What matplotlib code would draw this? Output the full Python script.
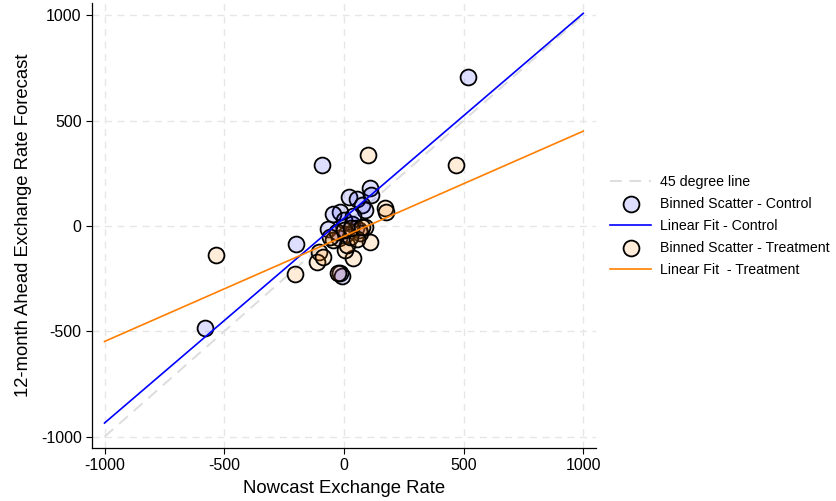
import matplotlib.pyplot as plt
import numpy as np

plt.rcParams['font.family'] = ['Liberation Sans', 'DejaVu Sans']
plt.rcParams['axes.unicode_minus'] = False

# binned scatter points (nowcast, 12-month ahead forecast)
ctrl_x = [-580, -200, -90, 520, 108, 112, 23, 55, 75, 90, -16, -44, -65, -30,
          -9, -16, 0, 35, 50, -20, 10, 65, 40]
ctrl_y = [-485, -87, 287, 705, 180, 148, 137, 128, 100, 78, 68, 58, -15, -30,
          -237, -224, 30, 10, -10, -55, -40, -20, 45]

treat_x = [-535, -204, 467, 100, 172, 175, 109, 40, 5, 12, -44, -106, -113, -86,
           -23, 88, 67, 26, -30, 55, 0, -60, 30, 75]
treat_y = [-140, -229, 289, 337, 84, 66, -74, -150, -114, -90, -66, -122, -169,
           -146, -222, -3, -35, -51, -27, -60, -20, -50, -10, -5]

fit_x = [-1000, 1000]
ctrl_fit = [-935, 1009]
treat_fit = [-548, 450]
ref_45 = [-1000, 1000]

ticks = [-1000, -500, 0, 500, 1000]

fig = plt.figure(figsize=(8.37, 5.01), dpi=100)
ax = fig.add_axes([0.110, 0.106, 0.602, 0.888])

ax.plot(fit_x, ref_45, color='#dddddd', lw=1.4, ls=(0, (6, 4)),
        label='45 degree line', zorder=2)
ax.scatter(ctrl_x, ctrl_y, s=130, facecolor=(0, 0, 1, 0.13), edgecolor='black',
           linewidth=1.3, label='Binned Scatter - Control', zorder=3)
ax.plot(fit_x, ctrl_fit, color='#0000ff', lw=1.2, label='Linear Fit - Control', zorder=4)
ax.scatter(treat_x, treat_y, s=130, facecolor=(1, 0.5, 0, 0.15), edgecolor='black',
           linewidth=1.3, label='Binned Scatter - Treatment', zorder=3)
ax.plot(fit_x, treat_fit, color='#ff7f00', lw=1.2, label='Linear Fit  - Treatment', zorder=4)

ax.set_xlim(-1052, 1053)
ax.set_ylim(-1053, 1058)
ax.set_xticks(ticks)
ax.set_yticks(ticks)
ax.grid(True, color='#e6e6e6', ls=(0, (5, 4)), lw=1.0, zorder=0)
ax.set_axisbelow(True)

for side in ['top', 'right']:
    ax.spines[side].set_visible(False)
for side in ['left', 'bottom']:
    ax.spines[side].set_linewidth(0.9)
ax.tick_params(direction='out', length=4.5, width=0.8, labelsize=11.5, pad=3)

ax.set_xlabel('Nowcast Exchange Rate', fontsize=13.3, labelpad=5)
ax.set_ylabel('12-month Ahead Exchange Rate Forecast', fontsize=13.3, labelpad=6)

fig.legend(loc='center left', bbox_to_anchor=(0.729, 0.549), frameon=False,
           fontsize=10.2, handlelength=2.9, handletextpad=0.65, labelspacing=0.58,
           borderpad=0, borderaxespad=0)

plt.savefig('out.png', dpi=100)
